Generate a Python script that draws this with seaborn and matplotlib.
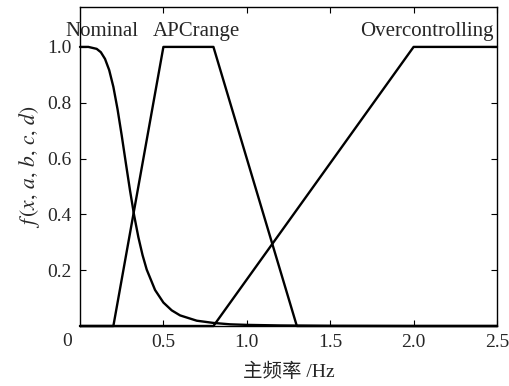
import numpy as np
import pandas as pd
import seaborn as sns
import matplotlib
matplotlib.use("Agg")
import matplotlib.pyplot as plt
import matplotlib.transforms as mtrans

# ---- data ----
nominal_x = [0.0, 0.05, 0.10, 0.125, 0.15, 0.175, 0.20, 0.225, 0.25, 0.275, 0.30,
             0.325, 0.35, 0.375, 0.40, 0.45, 0.50, 0.55, 0.60, 0.70, 0.80, 0.90,
             1.0, 1.2, 1.5, 2.0, 2.5]
nominal_y = [1.0, 1.0, 0.993, 0.981, 0.957, 0.917, 0.857, 0.777, 0.683, 0.583, 0.485,
             0.395, 0.318, 0.254, 0.202, 0.129, 0.084, 0.056, 0.038, 0.019, 0.011, 0.006,
             0.004, 0.002, 0.0006, 0.0, 0.0]

apc_x = [0.0, 0.2, 0.5, 0.8, 1.3, 2.5]
apc_y = [0.0, 0.0, 1.0, 1.0, 0.0, 0.0]

over_x = [0.0, 0.8, 2.0, 2.5]
over_y = [0.0, 0.0, 1.0, 1.0]

series_labels = ["Nominal", "APCrange", "Overcontrolling"]
label_pos = [(0.13, 1.054), (0.70, 1.054), (2.08, 1.054)]

xticks = [0.5, 1.0, 1.5, 2.0, 2.5]
xticklabels = ["0.5", "1.0", "1.5", "2.0", "2.5"]
yticks = [0.2, 0.4, 0.6, 0.8, 1.0]
yticklabels = ["0.2", "0.4", "0.6", "0.8", "1.0"]

sns.set_style("ticks")
plt.rcParams['font.family'] = ['Liberation Serif', 'Noto Sans CJK SC', 'DejaVu Sans']
plt.rcParams['mathtext.fontset'] = 'stix'

fig = plt.figure(figsize=(5.10, 3.86), dpi=100)
ax = fig.add_axes([80/510, 1-326/386, (497-80)/510, (326-7)/386])

for xs, ys in [(nominal_x, nominal_y), (apc_x, apc_y), (over_x, over_y)]:
    df = pd.DataFrame({"x": xs, "y": ys})
    sns.lineplot(data=df, x="x", y="y", ax=ax, color="black", linewidth=1.7,
                 sort=False, estimator=None)
for ln in ax.lines:
    ln.set_clip_on(False)

ax.set_xlim(0, 2.5)
ax.set_ylim(0, 1.143)
ax.set_xticks(xticks)
ax.set_xticklabels(xticklabels)
ax.set_yticks(yticks)
ax.set_yticklabels(yticklabels)
ax.tick_params(direction="in", top=True, right=True, labelsize=14, length=4,
               width=0.8, color="black", pad=6)
for s in ax.spines.values():
    s.set_linewidth(1.0)
    s.set_color("black")

for lab, (lx, ly) in zip(series_labels, label_pos):
    ax.text(lx, ly, lab, ha="center", va="center", fontsize=15)

# origin label
off = mtrans.offset_copy(ax.transData, fig=fig, x=-13*0.72, y=-16*0.72, units="points")
ax.text(0, 0, "0", transform=off, ha="center", va="center", fontsize=14)

ax.set_xlabel("主频率 /Hz", fontsize=14, labelpad=8)
ax.set_ylabel(r"$f\,(x,\,a,\,b,\,c,\,d)$", fontsize=15.5, labelpad=4)

fig.savefig("out.png", dpi=100)
